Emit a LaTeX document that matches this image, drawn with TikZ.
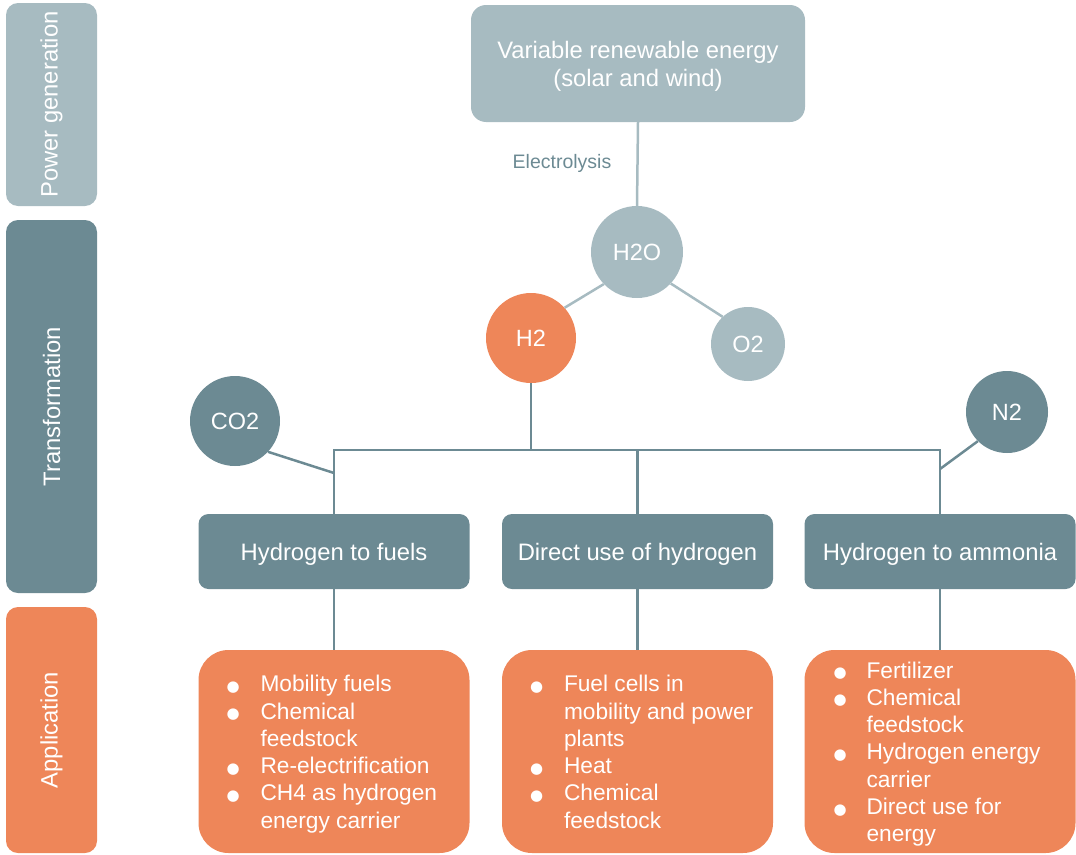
\documentclass[tikz,border=0pt]{standalone}
\usepackage{fontspec}
\setmainfont{Liberation Sans}
\newfontfamily\dejavu{DejaVu Sans}
\definecolor{lite}{HTML}{A7BBC1}
\definecolor{dark}{HTML}{6C8A93}
\definecolor{orng}{HTML}{EE8659}
\newcommand{\bul}{\raisebox{0.5pt}{\dejavu\fontsize{15}{15}\selectfont ●}}
\begin{document}
\begin{tikzpicture}[x=1pt,y=-1pt,
  band/.style={rotate=90, rounded corners=12pt, inner sep=0pt, text=white,
    font=\fontsize{23.8}{28}\selectfont, minimum height=91pt},
  topbox/.style={fill=lite, rounded corners=15pt, minimum width=334pt, minimum height=117pt,
    inner sep=0pt, text=white, align=center, text depth=0pt, font=\fontsize{23.8}{28}\selectfont},
  midbox/.style={fill=dark, rounded corners=10pt, minimum width=271pt, minimum height=75pt,
    inner sep=0pt, text=white, text depth=0pt, font=\fontsize{23.8}{28}\selectfont},
  appbox/.style={fill=orng, rounded corners=30pt, minimum width=271pt, minimum height=203pt, inner sep=0pt},
  blist/.style={text=white, font=\fontsize{22.7}{27.3}\selectfont, inner sep=0pt, anchor=west, yshift=-3pt},
  circ/.style={circle, inner sep=0pt, text=white, font=\fontsize{23.5}{28}\selectfont},
  darkline/.style={draw=dark, line width=2.5pt},
  liteline/.style={draw=lite, line width=2.5pt},
]
\useasboundingbox (0,0) rectangle (1076,854);

% left bands
\node[band, fill=lite, minimum width=203pt] (pg) at (51.5,104.5) {Power generation};
\node[band, fill=dark, minimum width=373pt] (tr) at (51.5,406.5) {Transformation};
\node[band, fill=orng, minimum width=246pt] (ap) at (51.5,730) {Application};

% top
\node[topbox] (top) at (638,63.5) {Variable renewable energy\\(solar and wind)};
\node[text=dark, inner sep=0pt, font=\fontsize{19.5}{23}\selectfont] (el) at (562,163) {Electrolysis};

% circles
\node[circ, fill=lite, minimum size=92pt] (h2o) at (637,252) {H2O};
\node[circ, fill=orng, minimum size=90pt] (h2) at (531,338) {H2};
\node[circ, fill=lite, minimum size=74pt] (o2) at (748,344) {O2};
\node[circ, fill=dark, minimum size=90pt] (co2) at (235,421) {CO2};
\node[circ, fill=dark, minimum size=82pt] (n2) at (1007,412) {N2};

% transformation boxes
\node[midbox] (f1) at (334,551.5) {Hydrogen to fuels};
\node[midbox] (f2) at (637.5,551.5) {Direct use of hydrogen};
\node[midbox] (f3) at (940,551.5) {Hydrogen to ammonia};

% application boxes
\node[appbox] (a1) at (334,751.5) {};
\node[appbox] (a2) at (637.5,751.5) {};
\node[appbox] (a3) at (940,751.5) {};

\node[blist] (l1) at ([xshift=28pt]a1.west) {\begin{tabular}{@{}p{34pt}@{}l@{}}
\bul & Mobility fuels\\
\bul & Chemical\\
 & feedstock\\
\bul & Re-electrification\\
\bul & CH4 as hydrogen\\
 & energy carrier
\end{tabular}};
\node[blist] (l2) at ([xshift=28pt]a2.west) {\begin{tabular}{@{}p{34pt}@{}l@{}}
\bul & Fuel cells in\\
 & mobility and power\\
 & plants\\
\bul & Heat\\
\bul & Chemical\\
 & feedstock
\end{tabular}};
\node[blist] (l3) at ([xshift=29pt]a3.west) {\begin{tabular}{@{}p{33pt}@{}l@{}}
\bul & Fertilizer\\
\bul & Chemical\\
 & feedstock\\
\bul & Hydrogen energy\\
 & carrier\\
\bul & Direct use for\\
 & energy
\end{tabular}};

% connectors
\coordinate (bL) at (334,450);
\coordinate (bM) at (637.5,450);
\coordinate (bR) at (940,450);
\coordinate (bH) at (531,450);
\coordinate (cL) at (334,473);
\coordinate (cR) at (940,469);

\draw[liteline] (top.south) -- (h2o.north);
\draw[liteline] (h2o.224) -- (h2.42);
\draw[liteline] (h2o.-43) -- (o2.133);

\draw[darkline] (f1.north) -- (bL) -- (bR) -- (f3.north);
\draw[darkline] (h2.south) -- (bH);
\draw[darkline] (bM) -- (f2.north);
\draw[darkline] (co2.-43) -- (cL);
\draw[darkline] (n2.225) -- (cR);

\draw[darkline] (f1.south) -- (a1.north);
\draw[darkline] (f2.south) -- (a2.north);
\draw[darkline] (f3.south) -- (a3.north);
\end{tikzpicture}
\end{document}
